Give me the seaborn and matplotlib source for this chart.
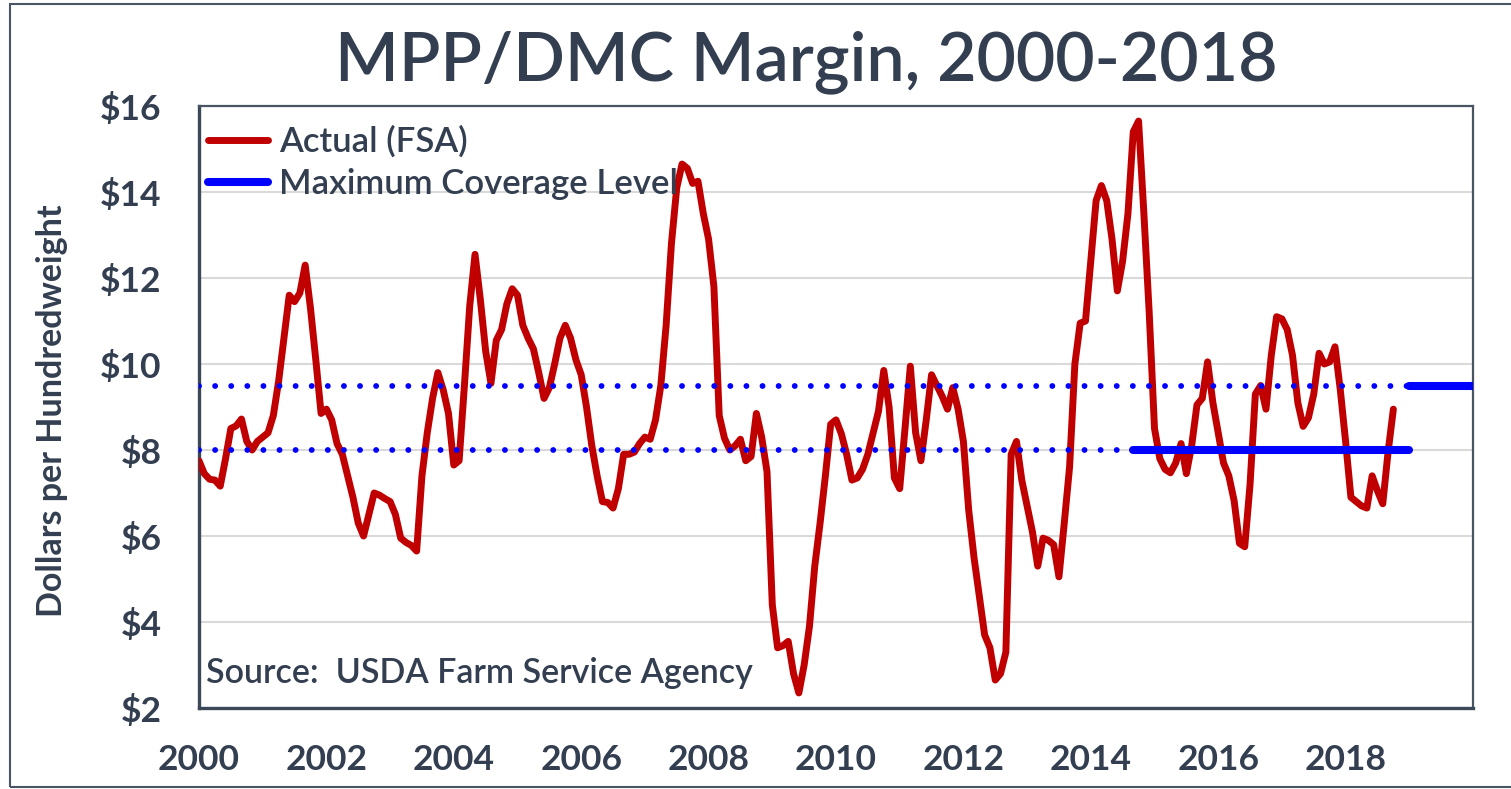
import numpy as np
import pandas as pd
import matplotlib.pyplot as plt
import seaborn as sns
from matplotlib.patches import Rectangle

# MPP/DMC margin, $/cwt, monthly Jan 2000 - Oct 2018 (one row per year)
margin = [
    7.75, 7.45, 7.32, 7.30, 7.16, 7.80, 8.50, 8.56, 8.72, 8.20, 8.00, 8.20,
    8.30, 8.40, 8.80, 9.60, 10.60, 11.60, 11.45, 11.65, 12.30, 11.30, 10.10, 8.85,
    8.95, 8.70, 8.15, 7.90, 7.40, 6.90, 6.30, 6.00, 6.50, 7.00, 6.95, 6.87,
    6.80, 6.50, 5.95, 5.85, 5.78, 5.65, 7.40, 8.40, 9.20, 9.80, 9.40, 8.85,
    7.65, 7.75, 9.50, 11.35, 12.55, 11.50, 10.30, 9.55, 10.55, 10.80, 11.40, 11.75,
    11.60, 10.90, 10.60, 10.35, 9.80, 9.20, 9.45, 10.00, 10.60, 10.90, 10.60, 10.10,
    9.75, 9.00, 8.10, 7.40, 6.80, 6.78, 6.65, 7.10, 7.90, 7.90, 7.95, 8.15,
    8.30, 8.25, 8.70, 9.50, 10.90, 12.80, 14.10, 14.65, 14.55, 14.20, 14.25, 13.50,
    12.90, 11.80, 8.80, 8.27, 8.00, 8.10, 8.25, 7.75, 7.85, 8.85, 8.30, 7.50,
    4.40, 3.40, 3.45, 3.55, 2.80, 2.35, 3.00, 3.90, 5.30, 6.30, 7.40, 8.60,
    8.70, 8.38, 7.90, 7.30, 7.35, 7.55, 7.90, 8.40, 8.90, 9.85, 9.00, 7.35,
    7.10, 8.50, 9.95, 8.40, 7.75, 8.70, 9.75, 9.50, 9.25, 8.95, 9.45, 8.95,
    8.20, 6.60, 5.50, 4.60, 3.70, 3.40, 2.65, 2.80, 3.30, 7.90, 8.20, 7.30,
    6.70, 6.10, 5.30, 5.95, 5.90, 5.80, 5.05, 6.30, 7.60, 10.00, 10.95, 11.00,
    12.40, 13.80, 14.15, 13.80, 12.90, 11.70, 12.40, 13.50, 15.40, 15.65, 13.50, 11.20,
    8.50, 7.80, 7.55, 7.47, 7.70, 8.15, 7.45, 8.10, 9.05, 9.20, 10.05, 9.10,
    8.40, 7.70, 7.40, 6.82, 5.83, 5.75, 7.20, 9.30, 9.50, 8.95, 10.20, 11.10,
    11.05, 10.80, 10.20, 9.10, 8.55, 8.75, 9.30, 10.25, 10.00, 10.05, 10.40, 9.40,
    8.20, 6.90, 6.80, 6.70, 6.65, 7.40, 7.05, 6.75, 7.95, 8.95,
]

# dotted reference levels ($8 and $9.50) drawn across the whole period
ref_levels = [8.0, 9.5]
ref_span = [2000.0, 2019.0]

# maximum coverage level segments: start year, end year, level
mcl_start = [2014.67, 2019.0]
mcl_end = [2019.0, 2020.0]
mcl_level = [8.0, 9.5]

xtick_years = list(range(2000, 2021))
xtick_labels = ["2000", "", "2002", "", "2004", "", "2006", "", "2008", "",
                "2010", "", "2012", "", "2014", "", "2016", "", "2018", "", ""]
ytick_values = [2, 4, 6, 8, 10, 12, 14, 16]
ytick_labels = ["\\$2", "\\$4", "\\$6", "\\$8", "\\$10", "\\$12", "\\$14", "\\$16"]

months = pd.date_range("2000-01-01", periods=len(margin), freq="MS")
dat = pd.DataFrame({"year": months.year + (months.month - 1) / 12, "margin": margin})

sns.set_theme(style="white")
plt.rcParams['font.family'] = ['Lato', 'DejaVu Sans']
txt = "#333F50"
red = "#C00000"
blue = "#0000FF"

fig = plt.figure(figsize=(15.11, 7.89), dpi=100)
ax = fig.add_axes([199 / 1511, 1 - 708 / 789, (1473 - 199) / 1511, (708 - 106) / 789])

sns.lineplot(data=dat, x="year", y="margin", color=red, lw=5, ax=ax,
             label="Actual (FSA)", estimator=None, zorder=3,
             solid_joinstyle="round", solid_capstyle="round")

for lvl in ref_levels:
    sns.lineplot(x=ref_span, y=[lvl, lvl], color=blue, lw=4.2, ax=ax,
                 estimator=None, linestyle=(0, (0.01, 2.75)),
                 dash_capstyle="round", zorder=4)

for i, (a, b, lvl) in enumerate(zip(mcl_start, mcl_end, mcl_level)):
    sns.lineplot(x=[a, b], y=[lvl, lvl], color=blue, lw=5.8, ax=ax,
                 estimator=None, solid_capstyle="round", zorder=5,
                 label="Maximum Coverage Level" if i == 0 else "_nolegend_")

ax.set_xlim(2000, 2020)
ax.set_ylim(2, 16)
ax.set_xticks(xtick_years)
ax.set_xticklabels(xtick_labels)
ax.set_yticks(ytick_values)
ax.set_yticklabels(ytick_labels)
ax.set_xlabel("")
ax.set_ylabel("")
ax.yaxis.grid(True, color="#D9D9D9", lw=1.5)
ax.set_axisbelow(True)

ax.tick_params(axis="x", which="major", direction="out", length=10, width=1.6,
               color="#3C4858", pad=16, labelsize=25.5, labelcolor=txt)
ax.tick_params(axis="y", length=0, pad=27, labelsize=25.5, labelcolor=txt)
for lab in ax.get_xticklabels() + ax.get_yticklabels():
    lab.set_fontweight("bold")

for side in ["top", "right"]:
    ax.spines[side].set_color("#4A5563")
    ax.spines[side].set_linewidth(1.6)
for side in ["left", "bottom"]:
    ax.spines[side].set_color("#3C4858")
    ax.spines[side].set_linewidth(2.4)

handles, labels = ax.get_legend_handles_labels()
leg = ax.legend(handles, labels, loc="upper left", bbox_to_anchor=(0.0, 0.982),
                frameon=False, prop={"size": 25, "weight": "semibold"},
                handlelength=1.75, handletextpad=0.3,
                labelspacing=0.28, borderaxespad=0.1, borderpad=0.15)
for t in leg.get_texts():
    t.set_color(txt)

ax.text(0.0055, 0.058, "Source:  USDA Farm Service Agency", transform=ax.transAxes,
        fontsize=24.5, fontweight="semibold", color=txt, va="center", ha="left")

fig.text(806 / 1511, 1 - 80 / 789, "MPP/DMC Margin, 2000-2018", fontsize=49,
         fontweight="semibold", color=txt, ha="center", va="baseline")
fig.text(52 / 1511, 1 - 411 / 789, "Dollars per Hundredweight", fontsize=24.5,
         fontweight="bold", color=txt, rotation=90, ha="center", va="center")

fig.patches.append(Rectangle((10 / 1511, 2 / 789), 1.2, 783 / 789,
                             transform=fig.transFigure, fill=False,
                             edgecolor="#4A5563", lw=1.5))

fig.savefig("out.png", dpi=100)
